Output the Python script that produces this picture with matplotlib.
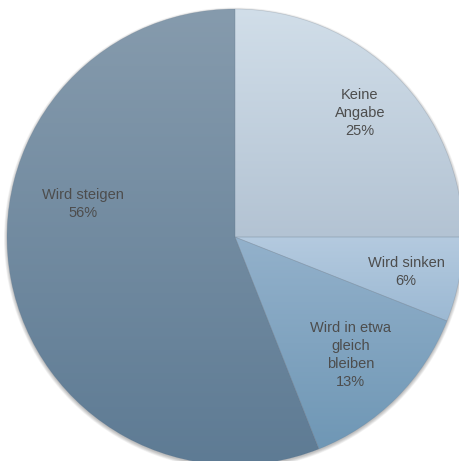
"""
Pie chart: expected development (German survey answers).
"""

import numpy as np
import matplotlib
matplotlib.use("Agg")
import matplotlib.pyplot as plt
from matplotlib.colors import LinearSegmentedColormap
from matplotlib.patches import Circle


labels = ["Keine\nAngabe", "Wird sinken", "Wird in etwa\ngleich\nbleiben", "Wird steigen"]
shares = [25, 6, 13, 56]

# top / bottom colour of the vertical gradient in each wedge
grad_top = ["#d1dee9", "#b4cadf", "#93b1cb", "#869bad"]
grad_bottom = ["#b3c3d3", "#9cb9d3", "#6f97b5", "#5e7b94"]
# label anchor relative to the centre, in units of the radius
label_offset = [(0.548, 0.544), (0.75, -0.154), (0.508, -0.518), (-0.665, 0.145)]

W, H = 459, 461
CENTER = (235, H - 237)
RADIUS = 228

fig = plt.figure(figsize=(W / 100, H / 100), dpi=100)
ax = fig.add_axes([0, 0, 1, 1])

# soft drop shadow behind the disc
for k in range(6):
    ax.add_patch(Circle((CENTER[0], CENTER[1] - 1.5), RADIUS + 0.6 * k,
                        facecolor="black", edgecolor="none", alpha=0.045, zorder=0))

wedges, _ = ax.pie(shares, startangle=90, counterclock=False, radius=RADIUS,
                   center=CENTER, frame=True,
                   wedgeprops=dict(edgecolor=(0.4, 0.47, 0.55, 0.25), linewidth=0.5))

grad = np.linspace(0, 1, 256).reshape(-1, 1)
for w, top, bottom in zip(wedges, grad_top, grad_bottom):
    w.set_facecolor("none")
    w.set_zorder(3)
    ext = w.get_path().get_extents()
    cmap = LinearSegmentedColormap.from_list("g", [bottom, top])
    im = ax.imshow(grad, cmap=cmap, origin="lower", aspect="auto",
                   extent=(ext.x0, ext.x1, ext.y0, ext.y1), zorder=2,
                   interpolation="bilinear")
    im.set_clip_path(w)

total = sum(shares)
for lab, val, (ox, oy) in zip(labels, shares, label_offset):
    x = CENTER[0] + ox * RADIUS
    y = CENTER[1] + oy * RADIUS
    ax.text(x, y, f"{lab}\n{round(100 * val / total)}%", ha="center", va="center",
            fontsize=10.5, family="Liberation Sans", color="#4d4d4d",
            linespacing=1.38, zorder=5)

ax.set_xlim(0, W)
ax.set_ylim(0, H)
ax.set_aspect("equal")
ax.axis("off")
fig.savefig("out.png", dpi=100, facecolor="white")
